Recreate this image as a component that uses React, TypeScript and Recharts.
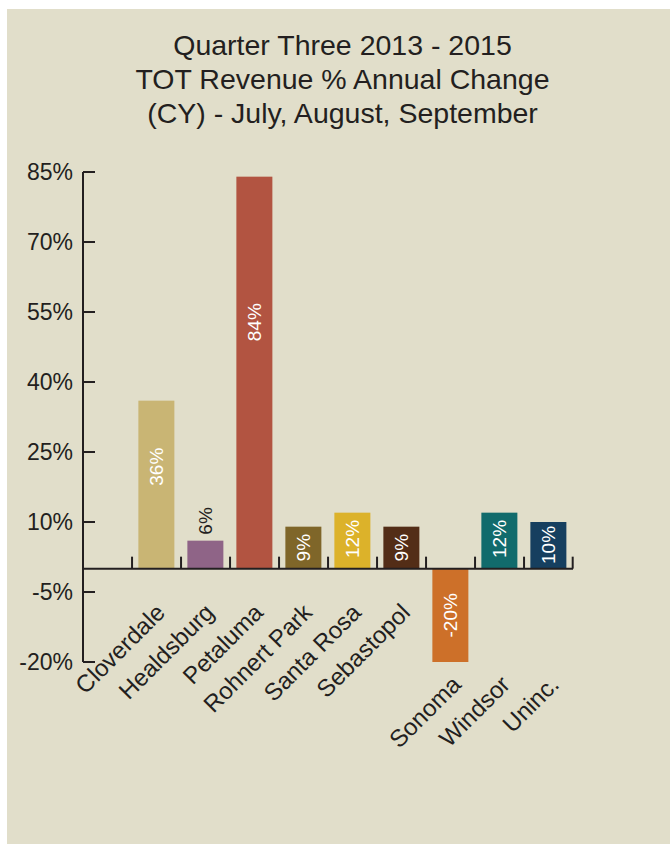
import React from 'react';
import { BarChart, Bar, XAxis, YAxis, Cell, ReferenceLine, LabelList } from 'recharts';

const categories = ['Cloverdale', 'Healdsburg', 'Petaluma', 'Rohnert Park', 'Santa Rosa', 'Sebastopol', 'Sonoma', 'Windsor', 'Uninc.'];
const changes = [36, 6, 84, 9, 12, 9, -20, 12, 10];
const barColors = ['#c9b574', '#8f6487', '#b25441', '#7f6629', '#dcb22a', '#532d17', '#cd7029', '#116b6c', '#163f5f'];
const yTicks = [-20, -5, 10, 25, 40, 55, 70, 85];
const titleLines = ['Quarter Three 2013 - 2015', 'TOT Revenue % Annual Change', '(CY) - July, August, September'];

const data = categories.map((name, i) => ({ name, value: changes[i] }));

const FONT = '"Liberation Sans", Arial, sans-serif';
const INK = '#231f20';
const BG = '#e1deca';
const GAP = 0.13;

const YTick = (props: any) => {
  const { x, y, payload } = props;
  return (
    <g>
      <line x1={x} x2={x + 12} y1={y} y2={y} stroke={INK} strokeWidth={2} />
      <text x={x - 10} y={y} dy="0.36em" textAnchor="end" fontSize={23} fontFamily={FONT} fill={INK}>
        {`${payload.value}%`}
      </text>
    </g>
  );
};

const XTick = (props: any) => {
  const { x, y, payload, index } = props;
  const lx = x + (index >= 6 ? 12 : 10);
  const ly = y + (index >= 6 ? 24 : -48);
  return (
    <text x={lx} y={ly} textAnchor="end" fontSize={24} fontFamily={FONT} fill={INK} transform={`rotate(-45, ${lx}, ${ly})`}>
      {payload.value}
    </text>
  );
};

const BarShape = (props: any) => {
  const { x, y, width, height, fill, index, payload } = props;
  const top = Math.min(y, y + height);
  const h = Math.abs(height);
  const v = payload ? payload.value : 0;
  const zeroY = v >= 0 ? top + h : top;
  const cx = x + width / 2;
  const half = width / (2 * (1 - 2 * GAP));
  const bounds = [cx - half];
  if (index === categories.length - 1) bounds.push(cx + half);
  return (
    <g>
      {bounds.map((bx) => (
        <line key={bx} x1={bx} x2={bx} y1={zeroY} y2={zeroY - 12} stroke={INK} strokeWidth={2} />
      ))}
      <rect x={x} y={top} width={width} height={h} fill={fill} />
    </g>
  );
};

const BarValueLabel = (props: any) => {
  const { x, y, width, height, value } = props;
  const fs = 19;
  const top = Math.min(y, y + height);
  const h = Math.abs(height);
  const cx = x + width / 2;
  const txt = `${value}%`;
  const txtLen = fs * (0.556 * (txt.length - 1) + 0.333 * (value < 0 ? 1 : 0) + 0.889 - 0.556 * (value < 0 ? 1 : 0));
  let cy: number;
  let fill = '#ffffff';
  if (txtLen + 8 > h) {
    cy = top - 6 - txtLen / 2;
    fill = INK;
  } else if (value >= 0) {
    cy = top + h / 2 - Math.max(0, 0.145 * (h - 44));
  } else {
    cy = top + h / 2;
  }
  return (
    <text x={cx} y={cy} textAnchor="middle" dominantBaseline="central" fontSize={fs} fontFamily={FONT} fill={fill} transform={`rotate(-90, ${cx}, ${cy})`}>
      {txt}
    </text>
  );
};

export default function App() {
  return (
    <div style={{ position: 'absolute', left: 0, top: 0, width: 670, height: 844, overflow: 'hidden' }}>
      <div style={{ position: 'absolute', left: 7, top: 9, width: 663, height: 835, background: BG }} />
      <div
        style={{
          position: 'absolute',
          left: 0,
          top: 28,
          width: 670,
          boxSizing: 'border-box',
          paddingLeft: 15,
          textAlign: 'center',
          fontFamily: FONT,
          fontSize: 28.5,
          lineHeight: '34px',
          color: INK,
        }}
      >
        {titleLines.map((t) => (
          <div key={t}>{t}</div>
        ))}
      </div>
      <div style={{ position: 'absolute', left: 7, top: 9 }}>
        <BarChart width={663} height={835} data={data} margin={{ top: 163, right: 97, bottom: 82, left: 16 }} barCategoryGap={`${GAP * 100}%`}>
          <XAxis
            dataKey="name"
            type="category"
            axisLine={false}
            tickLine={false}
            tickSize={0}
            tickMargin={0}
            height={100}
            padding={{ left: 49, right: 0 }}
            interval={0}
            tick={<XTick />}
          />
          <YAxis
            type="number"
            domain={[-20, 85]}
            ticks={yTicks}
            width={60}
            tickSize={0}
            tickMargin={0}
            tickLine={false}
            axisLine={{ stroke: INK, strokeWidth: 2 }}
            tick={<YTick />}
            interval={0}
          />
          <ReferenceLine y={0} stroke={INK} strokeWidth={2} />
          <Bar dataKey="value" isAnimationActive={false} shape={<BarShape />}>
            {data.map((d, i) => (
              <Cell key={d.name} fill={barColors[i]} />
            ))}
            <LabelList dataKey="value" content={<BarValueLabel />} />
          </Bar>
        </BarChart>
      </div>
    </div>
  );
}
